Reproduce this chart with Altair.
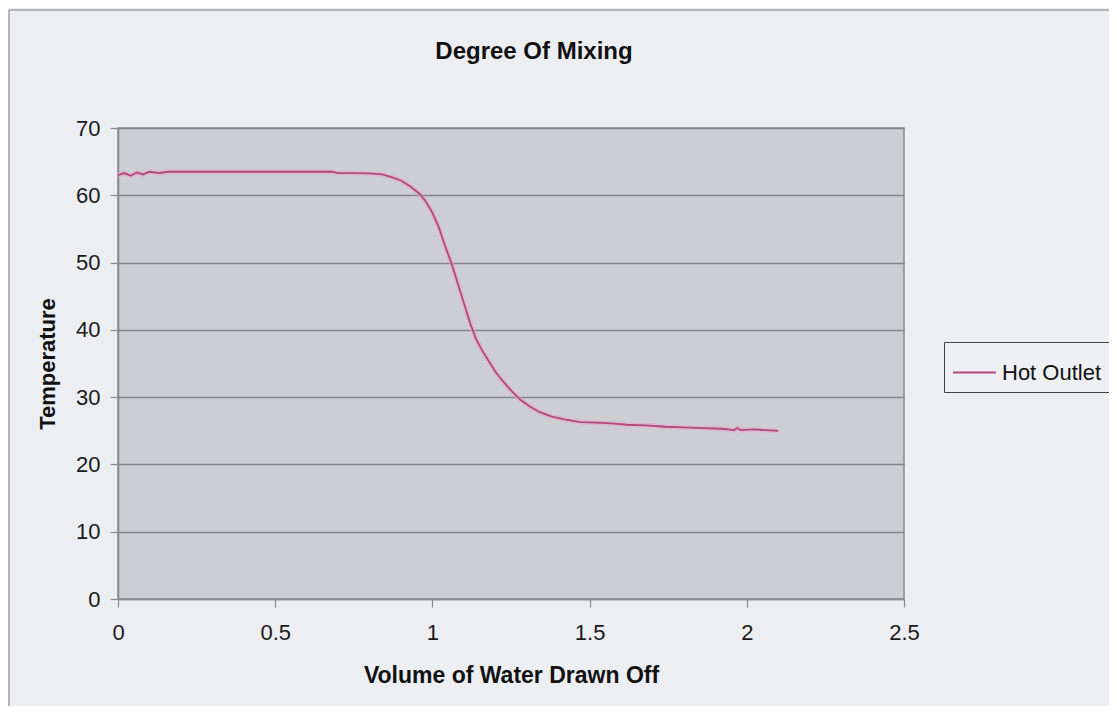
import altair as alt
import pandas as pd

# ---- data ----
volume = [0.00, 0.02, 0.04, 0.06, 0.08, 0.10, 0.13, 0.16, 0.20, 0.30, 0.40, 0.50,
          0.60, 0.68, 0.70, 0.75, 0.80, 0.84, 0.87, 0.90, 0.93, 0.96, 0.98, 1.00,
          1.02, 1.04, 1.06, 1.08, 1.10, 1.12, 1.14, 1.16, 1.18, 1.20, 1.22, 1.25,
          1.28, 1.31, 1.34, 1.38, 1.42, 1.47, 1.52, 1.57, 1.62, 1.68, 1.74, 1.80,
          1.86, 1.92, 1.96, 1.97, 1.98, 2.02, 2.06, 2.10]
temperature = [63.0, 63.3, 62.9, 63.4, 63.1, 63.5, 63.3, 63.5, 63.5, 63.5, 63.5, 63.5,
               63.5, 63.5, 63.3, 63.3, 63.25, 63.1, 62.7, 62.2, 61.3, 60.2, 59.0, 57.4,
               55.3, 52.5, 50.0, 47.0, 44.0, 41.0, 38.5, 36.8, 35.3, 33.8, 32.6, 31.0,
               29.6, 28.6, 27.8, 27.1, 26.7, 26.3, 26.2, 26.1, 25.9, 25.8, 25.6, 25.5,
               25.4, 25.3, 25.1, 25.4, 25.1, 25.2, 25.1, 25.0]
series_name = "Hot Outlet"
chart_title = "Degree Of Mixing"
x_title = "Volume of Water Drawn Off"
y_title = "Temperature"
x_ticks = [0, 0.5, 1, 1.5, 2, 2.5]
y_ticks = [0, 10, 20, 30, 40, 50, 60, 70]

df = pd.DataFrame({"Volume": volume, "Temperature": temperature,
                   "Series": [series_name] * len(volume)})

FONT = "Liberation Sans"
LINE = "#b04a7a"
HALO = "#eaa6c8"
BG = "#eceef2"
PLOT_BG = "#cdced3"
AXIS_C = "#8a8a90"

x_enc = alt.X(
    "Volume:Q",
    scale=alt.Scale(domain=[0, 2.5], nice=False, zero=False),
    axis=alt.Axis(
        values=x_ticks, format="~g", title=x_title, grid=False,
        tickSize=8, labelPadding=15, labelFontSize=22, labelFont=FONT,
        labelColor="#1a1a1a", labelFlush=False,
        titleFont=FONT, titleFontSize=23, titleFontWeight="bold", titleColor="#111",
        titleX=393, titleY=76, titleBaseline="middle", titleAlign="center",
        domainColor=AXIS_C, domainWidth=1.5, tickColor=AXIS_C, tickWidth=1.2,
    ),
)
y_enc = alt.Y(
    "Temperature:Q",
    scale=alt.Scale(domain=[0, 70], nice=False),
    axis=alt.Axis(
        values=y_ticks, title=y_title, grid=True, gridColor="#85858b", gridWidth=1.6,
        tickSize=8, labelPadding=10, labelFontSize=22, labelFont=FONT,
        labelColor="#1a1a1a", labelFlush=False,
        titleFont=FONT, titleFontSize=22, titleFontWeight="bold", titleColor="#111",
        titleX=-71, titleY=235.5, titleAngle=270, titleBaseline="middle", titleAlign="center",
        domainColor=AXIS_C, domainWidth=1.5, tickColor=AXIS_C, tickWidth=1.2,
    ),
)

halo = alt.Chart(df).mark_line(color=HALO, strokeWidth=5, opacity=0.55).encode(
    x=x_enc, y=y_enc
)

line = alt.Chart(df).mark_line(strokeWidth=1.8).encode(
    x=x_enc,
    y=y_enc,
    color=alt.Color(
        "Series:N",
        scale=alt.Scale(domain=[series_name], range=[LINE]),
        legend=alt.Legend(
            title=None, orient="none", legendX=826, legendY=214,
            symbolType="stroke", symbolSize=1849, symbolStrokeWidth=2,
            labelFont=FONT, labelFontSize=22, labelColor="#111", labelOffset=5,
            strokeColor="#444", fillColor="#eef0f3", padding=8,
        ),
    ),
)

one = pd.DataFrame({"t": [chart_title]})
frame_left = alt.Chart(one).mark_rule(color="#a2a2a6", strokeWidth=1.5).encode(
    x=alt.value(-109), y=alt.value(-118), y2=alt.value(600)
)
frame_top = alt.Chart(one).mark_rule(color="#a2a2a6", strokeWidth=1.5).encode(
    x=alt.value(-109), x2=alt.value(1000), y=alt.value(-118)
)
title = alt.Chart(one).mark_text(
    font=FONT, fontSize=24, fontWeight="bold", color="#111",
    align="center", baseline="middle",
).encode(text="t:N", x=alt.value(416), y=alt.value(-76))

chart = alt.layer(frame_left, frame_top, halo, line, title).properties(
    width=786,
    height=471,
    autosize=alt.AutoSizeParams(type="none"),
    padding={"left": 110, "top": 120, "right": 205, "bottom": 107},
    background=BG,
).configure_view(
    fill=PLOT_BG, stroke=AXIS_C, strokeWidth=1.5
)

chart.save("out.html", embed_options={"renderer": "svg", "actions": False})
